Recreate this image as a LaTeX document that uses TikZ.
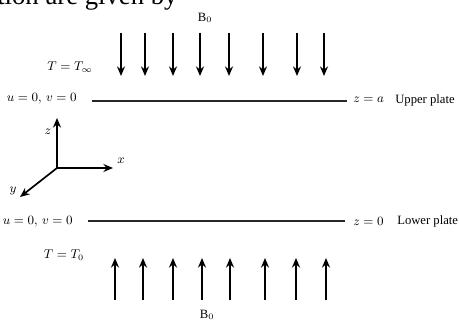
\documentclass[tikz,border=0pt]{standalone}
\usepackage{fontspec}
\setmainfont{Liberation Serif}
\usetikzlibrary{arrows.meta}
\tikzset{
  lbl/.style   ={font=\fontsize{9}{10}\selectfont, inner sep=0pt},
  cuttxt/.style={font=\fontsize{19}{20}\selectfont, inner sep=0pt,
                 anchor=base west},
  plate/.style ={line width=0.8pt, black!85},
  fld/.style   ={-{Stealth[length=2.4mm, width=2mm]}, line width=1.2pt},
  ax/.style    ={-{Stealth[length=2.4mm, width=2mm]}, line width=1.2pt},
}
\begin{document}
\begin{tikzpicture}[x=0.025cm, y=-0.025cm]
  \useasboundingbox (0,0) rectangle (459,320);
  \clip (0,0) rectangle (459,320);
  % text of the page above the figure
  \node[cuttxt] (prev) at (-3,5) {tion are given by};
  % field B0 from above
  \node[lbl] (btop) at (205,18) {B$_0$};
  \foreach \i/\xx in {1/121,2/145,3/173,4/200,5/229,6/263,7/297,8/324} {
    \coordinate (dt\i) at (\xx,33);
    \coordinate (db\i) at (\xx,76);
    \draw[fld] (dt\i) -- (db\i);
  }
  \node[lbl] (tinf) at (70,67) {$T = T_\infty$};
  % upper plate
  \node[lbl, anchor=east] (uvup) at (77,99) {$u = 0,\, v = 0$};
  \coordinate (upl) at (92,101);
  \coordinate (upr) at (347,101);
  \draw[plate] (upl) -- (upr);
  \node[lbl, anchor=west] (za) at (353,100) {$z = a$};
  \node[lbl, anchor=west] (upname) at (395,100) {Upper plate};
  % axes
  \coordinate (orig) at (57,168);
  \coordinate (zend) at (57,118);
  \coordinate (xend) at (113,168);
  \coordinate (yend) at (20,197);
  \draw[ax] (orig) -- (zend);
  \draw[ax] (orig) -- (xend);
  \draw[ax] (orig) -- (yend);
  \node[lbl] (zlab) at (48,132) {$z$};
  \node[lbl] (xlab) at (121,161) {$x$};
  \node[lbl] (ylab) at (13,191) {$y$};
  % lower plate
  \node[lbl, anchor=east] (uvlo) at (73,222) {$u = 0,\, v = 0$};
  \coordinate (lol) at (88,221);
  \coordinate (lor) at (345,221);
  \draw[plate] (lol) -- (lor);
  \node[lbl, anchor=west] (z0) at (353,221) {$z = 0$};
  \node[lbl, anchor=west] (loname) at (397,221) {Lower plate};
  \node[lbl] (tzero) at (64,255) {$T = T_0$};
  % field B0 from below
  \foreach \i/\xx in {1/115,2/143,3/173,4/202,5/230,6/265,7/296,8/326} {
    \coordinate (ub\i) at (\xx,300);
    \coordinate (ut\i) at (\xx,258);
    \draw[fld] (ub\i) -- (ut\i);
  }
  \node[lbl] (bbot) at (207,315) {B$_0$};
\end{tikzpicture}
\end{document}
